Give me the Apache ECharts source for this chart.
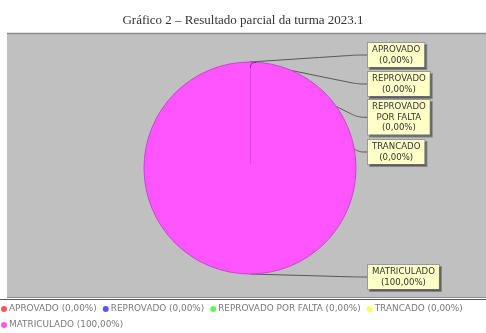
<!DOCTYPE html>
<html><head><meta charset="utf-8">
<style>html,body{margin:0;padding:0;background:#fff}#c{width:486px;height:333px}</style>
<script src="https://cdn.jsdelivr.net/npm/echarts@6/dist/echarts.min.js"></script>
</head><body><div id="c"></div>
<script>
const categories = ['APROVADO', 'REPROVADO', 'REPROVADO POR FALTA', 'TRANCADO', 'MATRICULADO'];
const values = [0, 0, 0, 0, 100];
const percentLabels = ['0,00%', '0,00%', '0,00%', '0,00%', '100,00%'];
const colors = ['#ff5555', '#5555ff', '#55ff55', '#ffff55', '#ff55ff'];
const boxLabels = ['APROVADO', 'REPROVADO', 'REPROVADO\nPOR FALTA', 'TRANCADO', 'MATRICULADO'];
const labelTops = [43, 72, 100, 140, 265];

const CX = 250, CY = 168, R = 106;
const chart = echarts.init(document.getElementById('c'), null, {renderer: 'canvas'});
const data = categories.map((c, i) => ({
  name: c, value: values[i],
  itemStyle: values[i] === 0 ? {color: colors[i]}
                             : {color: colors[i], borderColor: '#c648cf', borderWidth: 1},
  label: {formatter: boxLabels[i] + '\n(' + percentLabels[i] + ')'}
}));
chart.setOption({
  animation: false,
  title: {
    text: 'Gráfico 2 – Resultado parcial da turma 2023.1',
    left: 'center', top: 9,
    textStyle: {fontFamily: 'Liberation Serif', fontWeight: 'normal', fontSize: 13, color: '#333'}
  },
  graphic: [
    {type: 'rect', shape: {x: 7, y: 33, width: 479, height: 264}, style: {fill: '#c0c0c0'}, z: -10},
    {type: 'line', shape: {x1: 7, y1: 33.5, x2: 486, y2: 33.5}, style: {stroke: '#8a8a8a', lineWidth: 1.5}, z: -9},
    {type: 'line', shape: {x1: 7, y1: 297.5, x2: 486, y2: 297.5}, style: {stroke: '#8a8a8a', lineWidth: 1}, z: -9},
    {type: 'line', shape: {x1: 0, y1: 299.5, x2: 486, y2: 299.5}, style: {stroke: '#555', lineWidth: 1}, z: -9},
    {type: 'line', shape: {x1: CX + 0.5, y1: CY - 4, x2: CX + 0.5, y2: CY - R + 6}, style: {stroke: 'rgba(140,40,160,0.3)', lineWidth: 1}, z: 100},
    {type: 'bezierCurve', shape: {x1: CX + 0.5, y1: CY - R + 6, cpx1: CX + 0.5, cpy1: CY - R + 1, x2: CX + 6, y2: CY - R + 0.5, cpx2: CX + 2, cpy2: CY - R + 0.5}, style: {stroke: 'rgba(90,20,110,0.7)', lineWidth: 1, fill: null}, z: 100}
  ],
  legend: {
    left: 1, top: 304, width: 480, padding: 0,
    itemWidth: 6, itemHeight: 6, itemGap: 6,
    icon: 'circle',
    itemStyle: {borderWidth: 0},
    textStyle: {fontSize: 8.9, color: '#7a7a7a', fontFamily: 'DejaVu Sans', lineHeight: 10, padding: [0, 0, 0, -3]},
    formatter: name => name + ' (' + percentLabels[categories.indexOf(name)] + ')',
    data: categories
  },
  series: [{
    type: 'pie',
    center: [CX, CY],
    radius: R,
    startAngle: 90,
    clockwise: true,
    avoidLabelOverlap: false,
    data: data,
    label: {
      show: true, position: 'outside',
      fontSize: 8.6, color: '#333', fontFamily: 'DejaVu Sans', lineHeight: 10.5,
      backgroundColor: '#ffffc8', borderColor: '#999', borderWidth: 1,
      padding: [2, 4, 1, 4], align: 'center',
      shadowColor: 'rgba(0,0,0,0.3)', shadowOffsetX: 2, shadowOffsetY: 2, shadowBlur: 0
    },
    labelLine: {show: true, smooth: 0.4, length: 10, length2: 10, lineStyle: {color: '#555', width: 1}},
    labelLayout: function (p) {
      return {x: 367 + p.labelRect.width / 2, y: labelTops[p.dataIndex], align: 'center', verticalAlign: 'top'};
    },
    emphasis: {disabled: true}
  }]
});
</script></body></html>
